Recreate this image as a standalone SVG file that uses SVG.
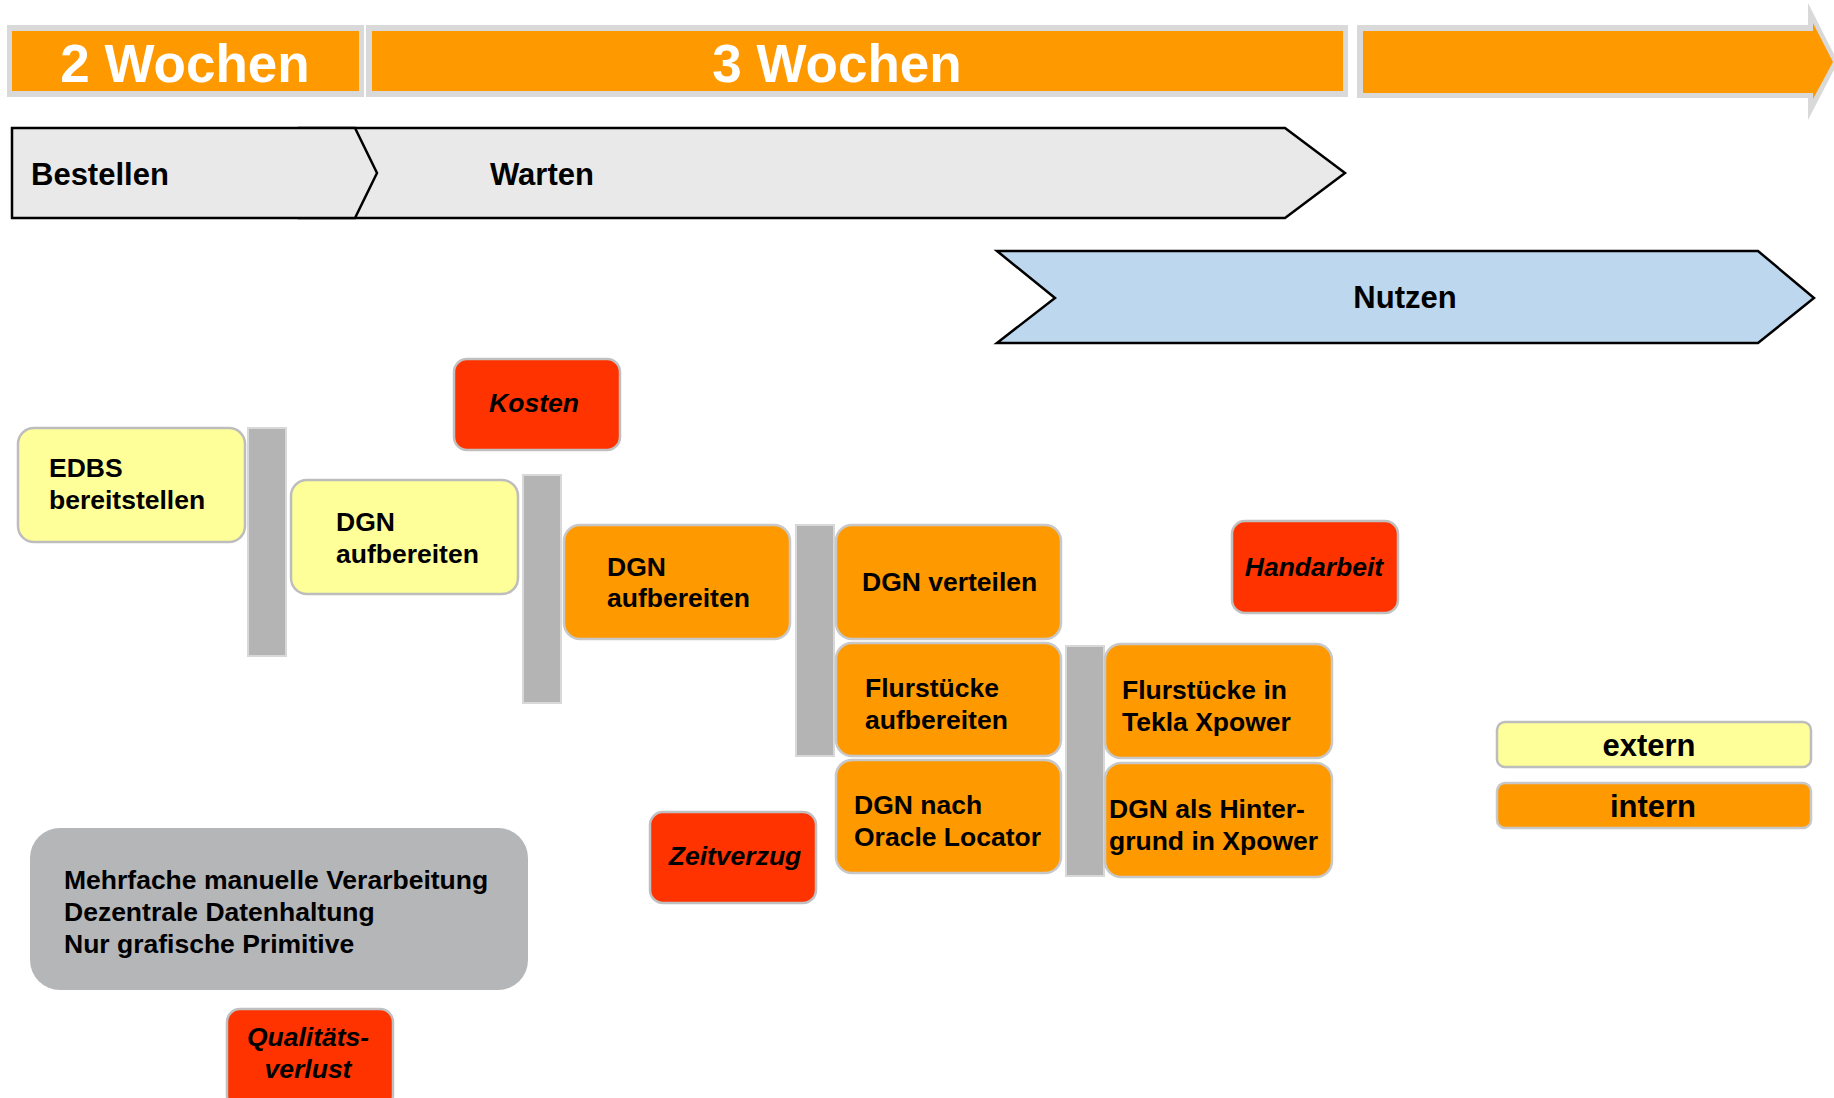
<svg xmlns="http://www.w3.org/2000/svg" width="1834" height="1098" viewBox="0 0 1834 1098">
<style>
text{font-family:"Liberation Sans",Arial,sans-serif;font-weight:bold;fill:#000}
.wk{fill:#fff;font-size:53px;text-anchor:middle}
.ph{font-size:31px}
.nt{font-size:26.5px}
.risk{font-size:26.5px;font-style:italic;text-anchor:middle}
.leg{font-size:31px;text-anchor:middle}
.frame{fill:#d9d9d9}
.bar{fill:#ff9900}
.phase{fill:#e9e9e9;stroke:#000;stroke-width:2.5;stroke-linejoin:miter}
.ext{fill:#ffff99;stroke:#bdbdbd;stroke-width:2.5}
.int{fill:#ff9900;stroke:#c8c8c8;stroke-width:2.5}
.rk{fill:#ff3300;stroke:#c0c0c0;stroke-width:2.5}
.sep{fill:#b4b4b4;stroke:#d8d8d8;stroke-width:2}
.note{fill:#b5b6b8}
</style>
<g id="timeline">
<g id="w2"><rect class="frame" x="7" y="25" width="357" height="72"/><rect class="bar" x="12" y="31" width="347" height="60"/><text class="wk" x="185" y="82">2 Wochen</text></g>
<g id="w3"><rect class="frame" x="366" y="25" width="982" height="72"/><rect class="bar" x="372" y="31" width="971" height="60"/><text class="wk" x="837" y="82">3 Wochen</text></g>
<g id="wrest"><polygon class="frame" points="1357,25 1808,25 1808,3 1838,62 1808,120 1808,98 1357,98"/><polygon class="bar" points="1363,31 1813,31 1813,23 1833,62 1813,99 1813,93 1363,93"/></g>
</g>
<g id="phases">
<g id="warten"><polygon class="phase" points="299,128 1285,128 1345,173 1285,218 299,218"/><text class="ph" x="490" y="185">Warten</text></g>
<g id="bestellen"><polygon class="phase" points="12,128 355,128 377,173 355,218 12,218"/><text class="ph" x="31" y="185">Bestellen</text></g>
<g id="nutzen"><polygon class="phase" style="fill:#bdd7ee" points="997,251 1758,251 1814,298 1758,343 997,343 1055,298"/><text class="ph" x="1405" y="308" text-anchor="middle">Nutzen</text></g>
</g>
<g id="connectors">
<rect class="sep" x="248" y="428" width="38" height="228"/>
<rect class="sep" x="523" y="475" width="38" height="228"/>
<rect class="sep" x="796" y="525" width="38" height="231"/>
<rect class="sep" x="1066" y="646" width="38" height="230"/>
</g>
<g id="n-edbs"><rect class="ext" x="18" y="428" width="227" height="114" rx="16"/><text class="nt" x="49" y="477">EDBS</text><text class="nt" x="49" y="509">bereitstellen</text></g>
<g id="n-dgn1"><rect class="ext" x="291" y="480" width="227" height="114" rx="16"/><text class="nt" x="336" y="531">DGN</text><text class="nt" x="336" y="563">aufbereiten</text></g>
<g id="n-dgn2"><rect class="int" x="564" y="525" width="226" height="114" rx="16"/><text class="nt" x="607" y="576">DGN</text><text class="nt" x="607" y="607">aufbereiten</text></g>
<g id="n-vert"><rect class="int" x="836" y="525" width="225" height="114" rx="16"/><text class="nt" x="862" y="591">DGN verteilen</text></g>
<g id="n-flur"><rect class="int" x="836" y="643" width="225" height="113" rx="16"/><text class="nt" x="865" y="697">Flurstücke</text><text class="nt" x="865" y="729">aufbereiten</text></g>
<g id="n-oracle"><rect class="int" x="836" y="760" width="225" height="113" rx="16"/><text class="nt" x="854" y="814">DGN nach</text><text class="nt" x="854" y="846">Oracle Locator</text></g>
<g id="n-tekla"><rect class="int" x="1105" y="644" width="227" height="114" rx="16"/><text class="nt" x="1122" y="699">Flurstücke in</text><text class="nt" x="1122" y="731">Tekla Xpower</text></g>
<g id="n-hinter"><rect class="int" x="1105" y="763" width="227" height="114" rx="16"/><text class="nt" x="1109" y="818">DGN als Hinter-</text><text class="nt" x="1109" y="850">grund in Xpower</text></g>
<g id="r-kosten"><rect class="rk" x="454" y="359" width="166" height="91" rx="13"/><text class="risk" x="534" y="412">Kosten</text></g>
<g id="r-hand"><rect class="rk" x="1232" y="521" width="166" height="92" rx="13"/><text class="risk" x="1314" y="576">Handarbeit</text></g>
<g id="r-zeit"><rect class="rk" x="650" y="812" width="166" height="91" rx="13"/><text class="risk" x="735" y="865">Zeitverzug</text></g>
<g id="r-qual"><rect class="rk" x="227" y="1009" width="166" height="100" rx="13"/><text class="risk" x="308" y="1046">Qualitäts-</text><text class="risk" x="308" y="1078">verlust</text></g>
<g id="note"><rect class="note" x="30" y="828" width="498" height="162" rx="30"/><text class="nt" x="64" y="889">Mehrfache manuelle Verarbeitung</text><text class="nt" x="64" y="921">Dezentrale Datenhaltung</text><text class="nt" x="64" y="953">Nur grafische Primitive</text></g>
<g id="legend">
<g id="l-extern"><rect class="ext" x="1497" y="722" width="314" height="45" rx="8"/><text class="leg" x="1649" y="756">extern</text></g>
<g id="l-intern"><rect class="int" x="1497" y="783" width="314" height="45" rx="8"/><text class="leg" x="1653" y="817">intern</text></g>
</g>
</svg>
